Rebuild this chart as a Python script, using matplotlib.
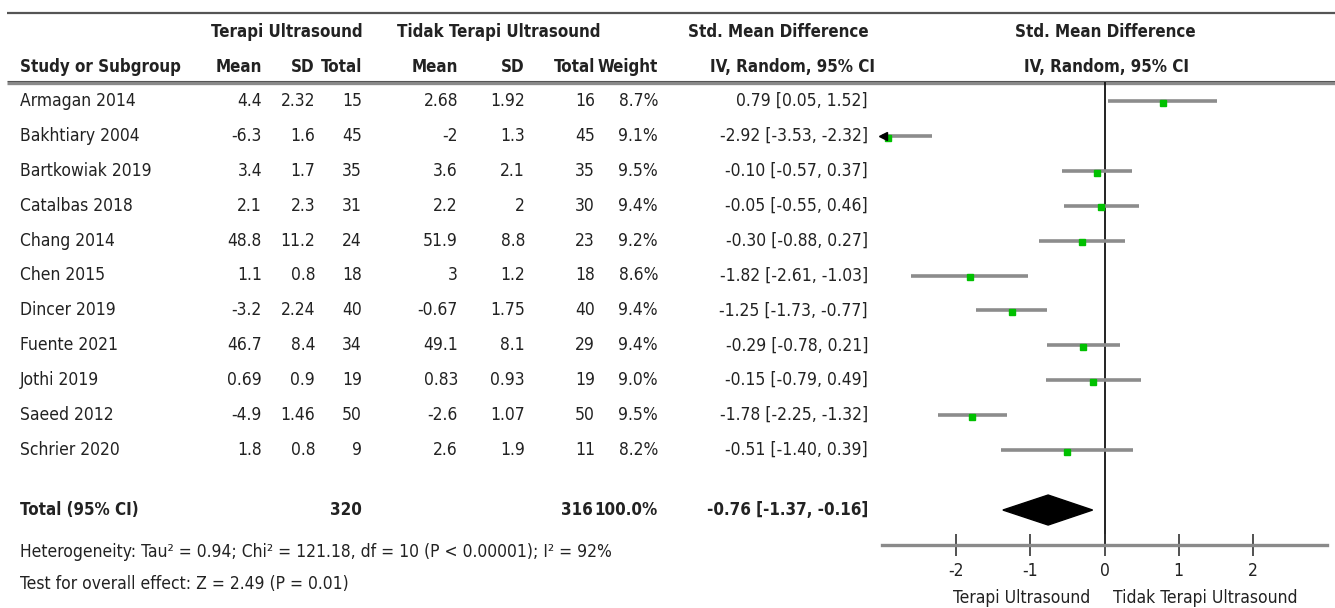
import matplotlib
matplotlib.use("Agg")
import matplotlib.pyplot as plt
from matplotlib.patches import Polygon

plt.rcParams['font.family'] = ['DejaVu Sans']
plt.rcParams['font.stretch'] = 'condensed'
plt.rcParams['axes.unicode_minus'] = False

# ---------------- data ----------------
studies = ["Armagan 2014", "Bakhtiary 2004", "Bartkowiak 2019", "Catalbas 2018",
           "Chang 2014", "Chen 2015", "Dincer 2019", "Fuente 2021", "Jothi 2019",
           "Saeed 2012", "Schrier 2020"]
mean_t = [4.4, -6.3, 3.4, 2.1, 48.8, 1.1, -3.2, 46.7, 0.69, -4.9, 1.8]
sd_t = [2.32, 1.6, 1.7, 2.3, 11.2, 0.8, 2.24, 8.4, 0.9, 1.46, 0.8]
n_t = [15, 45, 35, 31, 24, 18, 40, 34, 19, 50, 9]
mean_c = [2.68, -2, 3.6, 2.2, 51.9, 3, -0.67, 49.1, 0.83, -2.6, 2.6]
sd_c = [1.92, 1.3, 2.1, 2, 8.8, 1.2, 1.75, 8.1, 0.93, 1.07, 1.9]
n_c = [16, 45, 35, 30, 23, 18, 40, 29, 19, 50, 11]
weight = [8.7, 9.1, 9.5, 9.4, 9.2, 8.6, 9.4, 9.4, 9.0, 9.5, 8.2]
smd = [0.79, -2.92, -0.10, -0.05, -0.30, -1.82, -1.25, -0.29, -0.15, -1.78, -0.51]
ci_lo = [0.05, -3.53, -0.57, -0.55, -0.88, -2.61, -1.73, -0.78, -0.79, -2.25, -1.40]
ci_hi = [1.52, -2.32, 0.37, 0.46, 0.27, -1.03, -0.77, 0.21, 0.49, -1.32, 0.39]

total_t = 320
total_c = 316
total_weight = 100.0
total_smd = -0.76
total_lo = -1.37
total_hi = -0.16

xticks = [-2, -1, 0, 1, 2]
heterogeneity = "Heterogeneity: Tau² = 0.94; Chi² = 121.18, df = 10 (P < 0.00001); I² = 92%"
overall = "Test for overall effect: Z = 2.49 (P = 0.01)"
left_label = "Terapi Ultrasound"
right_label = "Tidak Terapi Ultrasound"

# ---------------- layout ----------------
W, H = 1335, 608
fig = plt.figure(figsize=(W / 100, H / 100), dpi=100)
ax0 = fig.add_axes([0, 0, 1, 1])
ax0.set_xlim(0, W)
ax0.set_ylim(H, 0)
ax0.axis('off')

TXT = '#222222'
FS = 12.5
FSB = 12.2
row_y0, row_dy = 101, 34.9
n = len(studies)


def rowpix(i):
    return row_y0 + row_dy * i


total_idx = n + 0.72

# horizontal rules
ax0.plot([7, W], [13, 13], color='#555555', lw=1.6, solid_capstyle='butt')
ax0.plot([7, W], [82.5, 82.5], color='#8a8a8a', lw=2.4, solid_capstyle='butt')
ax0.plot([7, W], [81, 81], color='#555555', lw=0.8, solid_capstyle='butt')

# headers
hy1, hy2 = 32, 67
bold = dict(fontsize=FSB, fontweight='bold', color=TXT, va='center')
ax0.text(287, hy1, "Terapi Ultrasound", ha='center', **bold)
ax0.text(499, hy1, "Tidak Terapi Ultrasound", ha='center', **bold)
ax0.text(778, hy1, "Std. Mean Difference", ha='center', **bold)
ax0.text(792, hy2, "IV, Random, 95% CI", ha='center', **bold)
ax0.text(1105, hy1, "Std. Mean Difference", ha='center', **bold)
ax0.text(1107, hy2, "IV, Random, 95% CI", ha='center', **bold)
ax0.text(20, hy2, "Study or Subgroup", ha='left', **bold)
col_x = [262, 315, 362, 458, 525, 595, 658]
for x, lab in zip(col_x, ["Mean", "SD", "Total", "Mean", "SD", "Total", "Weight"]):
    ax0.text(x, hy2, lab, ha='right', **bold)

# rows
norm = dict(fontsize=FS, color=TXT, va='center')
for i in range(n):
    y = rowpix(i)
    ax0.text(20, y, studies[i], ha='left', **norm)
    vals = [f"{mean_t[i]:g}", f"{sd_t[i]:g}", f"{n_t[i]}", f"{mean_c[i]:g}",
            f"{sd_c[i]:g}", f"{n_c[i]}", f"{weight[i]:.1f}%"]
    for x, v in zip(col_x, vals):
        ax0.text(x, y, v, ha='right', **norm)
    ax0.text(868, y, f"{smd[i]:.2f} [{ci_lo[i]:.2f}, {ci_hi[i]:.2f}]", ha='right', **norm)

ty = rowpix(total_idx)
ax0.text(20, ty, "Total (95% CI)", ha='left', **bold)
ax0.text(362, ty, f"{total_t}", ha='right', **bold)
ax0.text(593, ty, f"{total_c}", ha='right', **bold)
ax0.text(658, ty, f"{total_weight:.1f}%", ha='right', **bold)
ax0.text(868, ty, f"{total_smd:.2f} [{total_lo:.2f}, {total_hi:.2f}]", ha='right', **bold)

ax0.text(20, 552, heterogeneity, ha='left', **norm)
ax0.text(20, 584, overall, ha='left', **norm)

# ---------------- forest axes ----------------
px_l, px_r, px_t, px_b = 882, 1327, 82, 545
ax = fig.add_axes([px_l / W, 1 - px_b / H, (px_r - px_l) / W, (px_b - px_t) / H])
ax.patch.set_alpha(0)
ax.set_xlim(-3, 3)
ax.set_ylim((px_b - row_y0) / row_dy, (px_t - row_y0) / row_dy)
for s in ['top', 'left', 'right']:
    ax.spines[s].set_visible(False)
ax.spines['bottom'].set_color('#8a8a8a')
ax.spines['bottom'].set_linewidth(2.4)
ax.set_yticks([])
ax.set_xticks(xticks)
ax.set_xticklabels([f"{t:g}" for t in xticks])
ax.tick_params(axis='x', direction='inout', length=16, width=1.2, color='#333333',
               labelsize=FS, labelcolor=TXT, pad=4)

ax.axvline(0, color='#111111', lw=1.3, zorder=1)

xmin = ax.get_xlim()[0]
for i in range(n):
    ax.plot([ci_lo[i], ci_hi[i]], [i, i], color='#8c8c8c', lw=2.6,
            solid_capstyle='butt', zorder=2)
    ax.plot([smd[i]], [i + 0.05], marker='s', color='#00c000', ms=4.2 * (weight[i] / 9) ** 0.5,
            mec='#00c000', zorder=3, clip_on=False)
    if ci_lo[i] < xmin:
        ax.plot([xmin + 0.02], [i], marker='<', color='black', ms=6, zorder=4, clip_on=False)

dh = 0.43
diamond = Polygon([(total_lo, total_idx), (total_smd, total_idx - dh),
                   (total_hi, total_idx), (total_smd, total_idx + dh)],
                  closed=True, color='black', zorder=3)
ax.add_patch(diamond)

ax0.text(1090, 598, left_label, ha='right', **norm)
ax0.text(1113, 598, right_label, ha='left', **norm)

fig.savefig("out.png", dpi=100)
